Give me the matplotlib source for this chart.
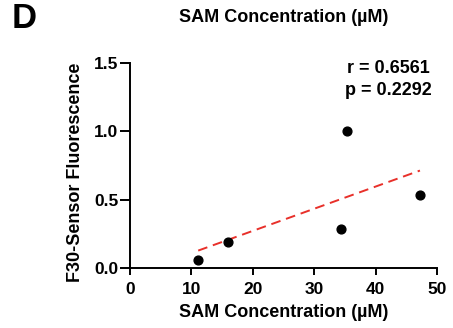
import numpy as np
import matplotlib
matplotlib.use("Agg")
import matplotlib.pyplot as plt

# SAM concentration vs sensor signal
sam_conc = [11.1, 15.9, 34.4, 35.3, 47.2]
fluorescence = [0.06, 0.19, 0.285, 1.00, 0.535]
r_text = "r = 0.6561"
p_text = "p = 0.2292"
x_ticks = [0, 10, 20, 30, 40, 50]
y_ticks = [0.0, 0.5, 1.0, 1.5]

plt.rcParams['font.family'] = ['Liberation Sans', 'DejaVu Sans']
plt.rcParams['font.weight'] = 'bold'

fig = plt.figure(figsize=(4.53, 3.28), dpi=100)
ax = fig.add_axes([0.287, 0.183, 0.678, 0.625])

# linear fit
slope, intercept = np.polyfit(sam_conc, fluorescence, 1)
fit_x = np.array([min(sam_conc), max(sam_conc)])
ax.plot(fit_x, slope * fit_x + intercept, color='#e8302a', lw=1.4,
        dashes=(5, 3), zorder=2)

ax.scatter(sam_conc, fluorescence, s=40, color='black', zorder=3)

ax.set_xlim(0, 50)
ax.set_ylim(0, 1.5)
ax.set_xticks(x_ticks)
ax.set_yticks(y_ticks)
ax.set_yticklabels([f"{v:.1f}" for v in y_ticks])
ax.tick_params(direction='out', width=1.4, labelsize=12.5)
ax.tick_params(axis='x', length=5, pad=5)
ax.tick_params(axis='y', length=7, pad=1.5)
for lab in ax.get_xticklabels() + ax.get_yticklabels():
    lab.set_fontweight('bold')

ax.spines['top'].set_visible(False)
ax.spines['right'].set_visible(False)
ax.spines['left'].set_linewidth(1.4)
ax.spines['bottom'].set_linewidth(1.4)

ax.set_xlabel("SAM Concentration (µM)", fontsize=13, fontweight='bold', labelpad=5)
ax.set_ylabel("F30-Sensor Fluorescence", fontsize=13, fontweight='bold', labelpad=5)
ax.yaxis.set_label_coords(-0.15, 0.465)

ax.text(0.84, 1.015, r_text + "\n" + p_text, transform=ax.transAxes,
        ha='center', va='top', fontsize=13, fontweight='bold', linespacing=1.4)

fig.text(0.626, 0.948, "SAM Concentration (µM)", ha='center', va='center',
         fontsize=13, fontweight='bold')
fig.text(0.025, 0.945, "D", ha='left', va='center', fontsize=25, fontweight='bold')

fig.savefig("out.png", dpi=100)
